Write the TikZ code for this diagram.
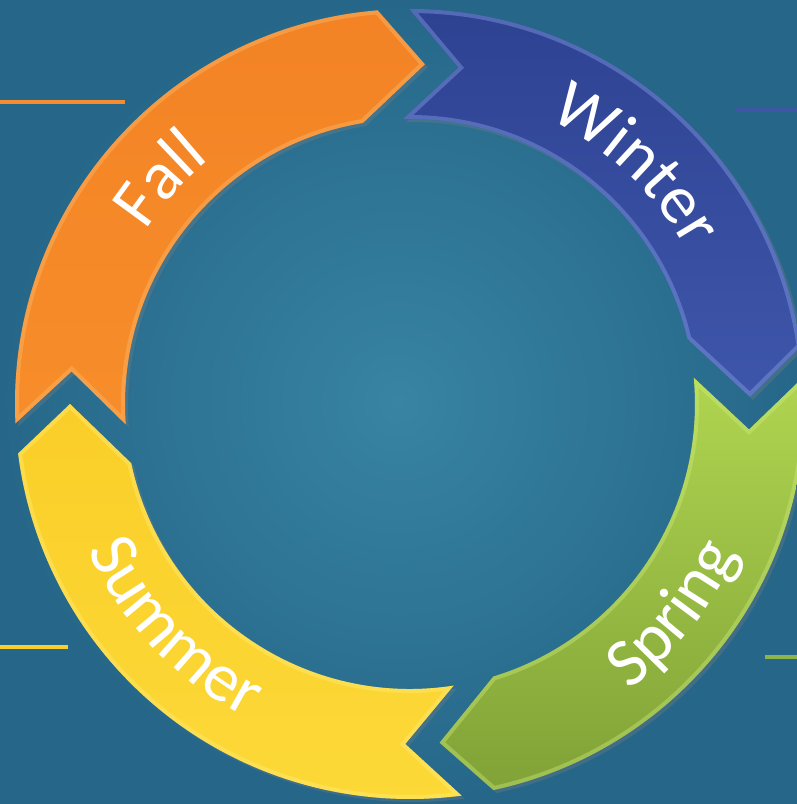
\documentclass[tikz,border=0pt]{standalone}
\usepackage{fontspec}
\newfontfamily\segfontfam{Carlito}
\usetikzlibrary{decorations.text,shadows}
\definecolor{bgin}{RGB}{56,132,162}
\definecolor{bgout}{RGB}{38,103,137}
\definecolor{fallC}{RGB}{247,141,42}
\definecolor{fallD}{RGB}{243,131,37}
\definecolor{fallH}{RGB}{252,188,112}
\definecolor{winD}{RGB}{46,66,146}
\definecolor{winM}{RGB}{84,117,198}
\definecolor{winB}{RGB}{62,86,170}
\definecolor{winH}{RGB}{140,166,236}
\definecolor{sprL}{RGB}{176,213,80}
\definecolor{sprM}{RGB}{154,194,70}
\definecolor{sprD}{RGB}{128,162,55}
\definecolor{sprH}{RGB}{205,236,122}
\definecolor{sumC}{RGB}{250,206,40}
\definecolor{sumL}{RGB}{252,217,56}
\definecolor{sumH}{RGB}{255,238,125}
\definecolor{lineO}{RGB}{244,140,50}
\definecolor{lineB}{RGB}{63,86,166}
\definecolor{lineY}{RGB}{250,206,45}
\definecolor{lineG}{RGB}{140,180,72}
\newcommand\segtext{\segfontfam\fontsize{34.5}{34.5}\selectfont}
\newcommand\segset[2]{%
  \pgfmathsetmacro\tA{#1}\pgfmathsetmacro\tN{#1-8.3}\pgfmathsetmacro\tI{#1+1.3}%
  \pgfmathsetmacro\hT{#2}\pgfmathsetmacro\hI{#2+12}\pgfmathsetmacro\hO{#2+7.2}}
\newcommand\segshape{(\tA:395) -- (\tN:340) -- (\tI:285)
  arc[start angle=\tI, end angle=\hI, radius=285] -- (\hT:340) -- (\hO:395)
  arc[start angle=\hO, end angle=\tA, radius=395] -- cycle}
\tikzset{
  segshadow/.style={drop shadow={shadow xshift=1.5pt, shadow yshift=-1.5pt, opacity=.3}},
  sideline/.style={line width=2pt},
  bevel/.style={line width=4pt, opacity=.4},
  seglabel/.style={decorate, decoration={text along path, text align=center, text color=white}}
}
\begin{document}
\begin{tikzpicture}[x=0.5pt,y=0.5pt]
\useasboundingbox (-410,-400) rectangle (387,404);
\shade[inner color=bgin, outer color=bgout] (-410,-400) rectangle (387,404);
% side lines
\coordinate (oL) at (-410,302); \coordinate (oR) at (-285,302);
\coordinate (bL) at (325,294);  \coordinate (bR) at (387,294);
\coordinate (yL) at (-410,-243); \coordinate (yR) at (-342,-243);
\coordinate (gL) at (355,-253); \coordinate (gR) at (387,-253);
\draw[sideline, lineO] (oL) -- (oR);
\draw[sideline, lineB] (bL) -- (bR);
\draw[sideline, lineY] (yL) -- (yR);
\draw[sideline, lineG] (gL) -- (gR);
% Fall
\segset{182.8}{87.5}
\path[segshadow, top color=fallD, bottom color=fallC] \segshape;
\begin{scope}\clip \segshape; \draw[bevel, fallH] \segshape; \end{scope}
% Winter
\segset{90.1}{1.2}
\path[segshadow, top color=winD, middle color=winM, bottom color=winB] \segshape;
\begin{scope}\clip \segshape; \draw[bevel, winH] \segshape; \end{scope}
% Spring
\segset{4}{-85}
\path[segshadow, top color=sprL, middle color=sprM, bottom color=sprD] \segshape;
\begin{scope}\clip \segshape; \draw[bevel, sprH] \segshape; \end{scope}
% Summer
\segset{-82.5}{-180}
\path[segshadow, top color=sumC, bottom color=sumL] \segshape;
\begin{scope}\clip \segshape; \draw[bevel, sumH] \segshape; \end{scope}
% labels
\path[seglabel, decoration={text={|\segtext|Fall}}] (168:316) arc[start angle=168, end angle=108, radius=316];
\path[seglabel, decoration={text={|\segtext|Winter}}] (76.7:317) arc[start angle=76.7, end angle=16.7, radius=317];
\path[seglabel, decoration={text={|\segtext|Spring}}] (-68.5:360) arc[start angle=-68.5, end angle=-8.5, radius=360];
\path[seglabel, decoration={text={|\segtext|Summer}}] (193.5:354) arc[start angle=193.5, end angle=253.5, radius=354];
\end{tikzpicture}
\end{document}
